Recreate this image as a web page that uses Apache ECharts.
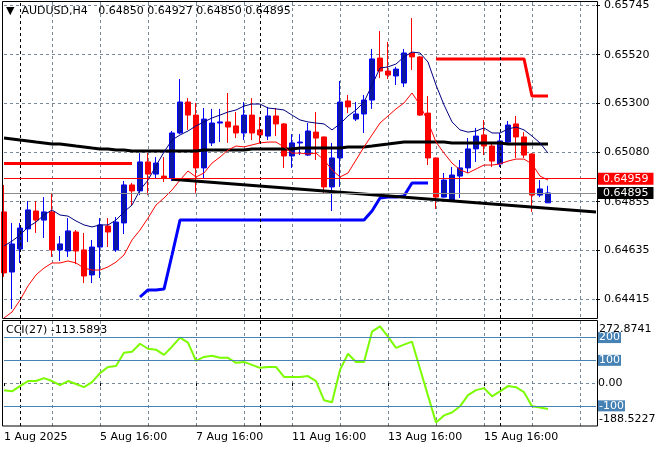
<!DOCTYPE html>
<html><head><meta charset="utf-8">
<script src="https://cdn.jsdelivr.net/npm/echarts@6/dist/echarts.min.js"></script>
<style>html,body{margin:0;padding:0;background:#fff}#c{width:660px;height:450px}</style>
</head><body><div id="c"></div>
<script>
const symbolName = 'AUDUSD,H4';
const barCount = 75; // 69 H4 bars + empty chart shift on the right
// OHLC per bar as [open, close, low, high]
const candles = [
 [0.64809,0.64533,0.64515,0.64931],[0.64537,0.64664,0.64370,0.64759],[0.64641,0.64736,0.64578,0.64759],
 [0.64732,0.64818,0.64673,0.64858],[0.64813,0.64772,0.64714,0.64858],[0.64772,0.64809,0.64691,0.64876],
 [0.64809,0.64637,0.64605,0.64895],[0.64637,0.64664,0.64587,0.64700],[0.64632,0.64723,0.64605,0.64781],
 [0.64718,0.64632,0.64573,0.64727],[0.64637,0.64519,0.64487,0.64714],[0.64524,0.64650,0.64487,0.64682],
 [0.64650,0.64750,0.64510,0.64781],[0.64745,0.64718,0.64650,0.64781],[0.64637,0.64763,0.64628,0.64786],
 [0.64759,0.64931,0.64709,0.64949],[0.64931,0.64904,0.64836,0.64940],[0.64904,0.65035,0.64885,0.65075],
 [0.65035,0.64980,0.64885,0.65075],[0.64980,0.65030,0.64962,0.65057],[0.64971,0.64962,0.64944,0.65057],
 [0.64962,0.65166,0.64949,0.65175],[0.65166,0.65306,0.65161,0.65410],[0.65306,0.65247,0.65180,0.65324],
 [0.65247,0.65008,0.64895,0.65302],[0.65008,0.65229,0.64958,0.65279],[0.65121,0.65211,0.65107,0.65275],
 [0.65211,0.65216,0.65125,0.65275],[0.65216,0.65193,0.65121,0.65347],[0.65198,0.65166,0.65143,0.65261],
 [0.65166,0.65247,0.65134,0.65306],[0.65247,0.65166,0.65134,0.65324],[0.65180,0.65157,0.65121,0.65238],
 [0.65152,0.65243,0.65134,0.65284],[0.65243,0.65207,0.65152,0.65279],[0.65207,0.65062,0.65008,0.65211],
 [0.65062,0.65121,0.65008,0.65161],[0.65121,0.65125,0.65066,0.65161],[0.65066,0.65175,0.65062,0.65211],
 [0.65170,0.65143,0.65044,0.65261],[0.65148,0.64922,0.64895,0.65150],[0.64922,0.65053,0.64813,0.65121],
 [0.65053,0.65306,0.64922,0.65401],[0.65311,0.65284,0.65256,0.65338],[0.65229,0.65252,0.65220,0.65306],
 [0.65252,0.65315,0.65166,0.65338],[0.65315,0.65501,0.65275,0.65546],[0.65505,0.65446,0.65415,0.65627],
 [0.65446,0.65428,0.65410,0.65578],[0.65424,0.65455,0.65383,0.65465],[0.65392,0.65528,0.65374,0.65546],
 [0.65528,0.65510,0.65451,0.65686],[0.65510,0.65247,0.65243,0.65514],[0.65256,0.65053,0.65021,0.65333],
 [0.65053,0.64876,0.64822,0.65055],[0.64876,0.64953,0.64874,0.64985],[0.64863,0.64976,0.64858,0.65012],
 [0.64971,0.65008,0.64872,0.65044],[0.65008,0.65094,0.64985,0.65143],[0.65094,0.65152,0.65035,0.65189],
 [0.65157,0.65107,0.65066,0.65225],[0.65107,0.65039,0.65012,0.65125],[0.65026,0.65130,0.65012,0.65166],
 [0.65125,0.65202,0.65121,0.65220],[0.65207,0.65148,0.65053,0.65243],[0.65148,0.65066,0.65053,0.65170],
 [0.65071,0.64885,0.64809,0.65073],[0.64885,0.64913,0.64876,0.64953],[0.64850,0.64895,0.64850,0.64927]
];
const maFast = [
 0.64655,0.64677,0.64704,0.64741,0.64763,0.64795,0.64818,0.64795,0.64790,0.64768,
 0.64750,0.64741,0.64750,0.64750,0.64772,0.64809,0.64840,0.64908,0.64953,0.65017,
 0.65080,0.65134,0.65157,0.65175,0.65198,0.65216,0.65234,0.65247,0.65261,0.65270,
 0.65288,0.65297,0.65297,0.65279,0.65275,0.65270,0.65247,0.65225,0.65216,0.65211,
 0.65207,0.65180,0.65207,0.65243,0.65270,0.65306,0.65383,0.65460,0.65465,0.65478,
 0.65510,0.65532,0.65528,0.65487,0.65383,0.65293,0.65216,0.65180,0.65170,0.65175,
 0.65189,0.65166,0.65166,0.65184,0.65193,0.65180,0.65152,0.65121,0.65075
];
const maSlow = [
 0.64329,0.64356,0.64410,0.64474,0.64524,0.64555,0.64578,0.64578,0.64587,0.64578,
 0.64555,0.64546,0.64546,0.64560,0.64582,0.64614,0.64682,0.64727,0.64781,0.64840,
 0.64872,0.64908,0.64953,0.64994,0.64967,0.64985,0.65030,0.65057,0.65089,0.65107,
 0.65103,0.65112,0.65121,0.65125,0.65125,0.65103,0.65075,0.65075,0.65071,0.65075,
 0.65044,0.64999,0.64967,0.64985,0.65044,0.65103,0.65157,0.65211,0.65243,0.65275,
 0.65302,0.65347,0.65293,0.65216,0.65125,0.65075,0.65030,0.64999,0.64985,0.65003,
 0.65021,0.65021,0.65026,0.65039,0.65048,0.65048,0.65026,0.64971,0.64953
];
const maLong = [
 0.65143,0.65139,0.65134,0.65130,0.65125,0.65121,0.65116,0.65116,0.65112,0.65107,
 0.65103,0.65098,0.65094,0.65094,0.65089,0.65089,0.65085,0.65085,0.65085,0.65085,
 0.65085,0.65085,0.65085,0.65085,0.65085,0.65089,0.65089,0.65089,0.65089,0.65089,
 0.65089,0.65094,0.65094,0.65094,0.65094,0.65094,0.65094,0.65098,0.65098,0.65098,
 0.65098,0.65098,0.65098,0.65103,0.65103,0.65103,0.65107,0.65112,0.65116,0.65121,
 0.65125,0.65125,0.65125,0.65125,0.65125,0.65125,0.65121,0.65121,0.65121,0.65121,
 0.65121,0.65121,0.65121,0.65116,0.65116,0.65116,0.65116,0.65116,0.65116
];
const supportLine = [
 null,null,null,null,null,null,null,null,null,null,
 null,null,null,null,null,null,null,0.64424,0.64456,0.64456,
 0.64460,0.64614,0.64772,0.64772,0.64772,0.64772,0.64772,0.64772,0.64772,0.64772,
 0.64772,0.64772,0.64772,0.64772,0.64772,0.64772,0.64772,0.64772,0.64772,0.64772,
 0.64772,0.64772,0.64772,0.64772,0.64772,0.64772,0.64813,0.64872,0.64876,0.64876,
 0.64881,0.64940,0.64940,0.64940,null,null,null,null,null,null,
 null,null,null,null,null,null,null,null,null
];
const resistanceLine = [
 0.65028,0.65028,0.65028,0.65028,0.65028,0.65028,0.65028,0.65028,0.65028,0.65028,
 0.65028,0.65028,0.65028,0.65028,0.65028,0.65028,0.65028,null,null,null,
 null,null,null,null,null,null,null,null,null,null,
 null,null,null,null,null,null,null,null,null,null,
 null,null,null,null,null,null,null,null,null,null,
 null,null,null,null,0.65501,0.65501,0.65501,0.65501,0.65501,0.65501,
 0.65501,0.65501,0.65501,0.65501,0.65501,0.65501,0.65333,0.65333,0.65333
];
const trendline = [[21, 0.64957], [74, 0.64809]];
const redLevel = 0.64959;
const bidPrice = 0.64895;
const cciValues = [
 -31,-36,-13,9,9,22,9,-9,9,-4,
 -18,4,44,71,75,133,138,173,151,147,
 124,160,200,178,98,115,120,111,111,89,
 93,80,67,71,71,27,27,27,31,9,
 -75,-84,58,129,93,93,226,249,204,155,
 169,182,63,-55,-173,-142,-129,-102,-53,-31,
 -22,-58,-36,-13,-18,-40,-102,-107,-113.5893
];
const cciPeriod = 27;
const cciLevels = [200, 100, -100];
const cciRange = [-188.5227, 272.8741];
const cciTicks = [-100, 0, 100, 200];
const priceTicks = [0.64415, 0.64635, 0.64855, 0.65080, 0.65300, 0.65520, 0.65745];
const priceRange = [0.64329, 0.657586];
const xTickBars = [0, 12, 24, 36, 48, 60];
const xTickLabels = ['1 Aug 2025', '5 Aug 16:00', '7 Aug 16:00', '11 Aug 16:00', '13 Aug 16:00', '15 Aug 16:00'];
const gridEveryBars = 6;
const separatorBars = [2, 32, 62];

const FONT = 'DejaVu Sans';
const GRID_COLOR = '#778899';
const categories = Array.from({length: barCount}, (_, i) => String(i));
const last = candles[candles.length - 1];
const lastCci = cciValues[cciValues.length - 1];

const gridSplit = {
  show: true,
  interval: (i) => i > 0 && i % gridEveryBars === 0,
  lineStyle: {color: GRID_COLOR, type: [3, 3], width: 1}
};
const sepLines = separatorBars.map(b => ({xAxis: String(b)}));

const chart = echarts.init(document.getElementById('c'), null, {renderer: 'canvas', width: 660, height: 450});
chart.setOption({
  animation: false,
  backgroundColor: '#ffffff',
  textStyle: {fontFamily: FONT},
  title: [{
    left: 6, top: 6, padding: 0,
    text: '{tri|▼}  ' + symbolName + '   ' + [last[0], last[3], last[2], last[1]].map(v => v.toFixed(5)).join(' '),
    textStyle: {fontFamily: FONT, fontSize: 11, fontWeight: 'normal', color: '#000',
      rich: {tri: {fontSize: 11, color: '#000', fontFamily: FONT}}}
  }, {
    left: 6, top: 325, padding: 0,
    text: 'CCI(' + cciPeriod + ') ' + lastCci.toFixed(4),
    textStyle: {fontFamily: FONT, fontSize: 11, fontWeight: 'normal', color: '#000'}
  }],
  grid: [
    {left: 4, width: 592, top: 2, height: 316, show: false, outerBoundsMode: 'none', containLabel: false},
    {left: 4, width: 592, top: 321, height: 105, show: false, outerBoundsMode: 'none', containLabel: false}
  ],
  xAxis: [
    {type: 'category', gridIndex: 0, data: categories, boundaryGap: false,
     axisLine: {show: false}, axisTick: {show: false}, axisLabel: {show: false}, splitLine: gridSplit},
    {type: 'category', gridIndex: 1, data: categories, boundaryGap: false,
     axisLine: {show: false},
     axisTick: {show: true, length: 3, interval: (i) => xTickBars.includes(i), lineStyle: {color: '#000'}},
     axisLabel: {show: true, interval: (i) => xTickBars.includes(i),
       formatter: (v, i) => { const k = xTickBars.indexOf(i); return k >= 0 ? xTickLabels[k] : ''; },
       align: 'left', margin: 6, color: '#000', fontFamily: FONT, fontSize: 11},
     splitLine: gridSplit}
  ],
  yAxis: [
    {type: 'value', gridIndex: 0, position: 'right', min: priceRange[0], max: priceRange[1],
     axisLine: {show: false},
     axisTick: {show: true, length: 4, customValues: priceTicks, lineStyle: {color: '#000'}},
     axisLabel: {customValues: priceTicks, formatter: v => v.toFixed(5), margin: 8, align: 'left',
       color: '#000', fontFamily: FONT, fontSize: 11},
     splitLine: {show: true, lineStyle: {color: GRID_COLOR, type: [3, 3], width: 1}}},
    {type: 'value', gridIndex: 1, position: 'right', min: cciRange[0], max: cciRange[1],
     axisLine: {show: false},
     axisTick: {show: false, customValues: cciTicks},
     axisLabel: {customValues: cciTicks,
       formatter: v => cciLevels.includes(v) ? '{box|' + v + '}' : v.toFixed(2),
       margin: 2, align: 'left', color: '#000', fontFamily: FONT, fontSize: 11,
       rich: {box: {backgroundColor: '#4682B4', color: '#fff', fontFamily: FONT, fontSize: 11, lineHeight: 11, padding: [0, 1, 0, 1]}}},
     splitLine: {show: true, lineStyle: {color: GRID_COLOR, type: [3, 3], width: 1}}},
    {type: 'value', gridIndex: 1, position: 'right', min: cciRange[0], max: cciRange[1],
     axisLine: {show: false}, splitLine: {show: false},
     axisTick: {show: false, customValues: [cciRange[1]]},
     axisLabel: {customValues: [cciRange[1]], formatter: v => v.toFixed(4), verticalAlign: 'top',
       padding: [3, 0, 0, 0], margin: 3, align: 'left', color: '#000', fontFamily: FONT, fontSize: 11}},
    {type: 'value', gridIndex: 1, position: 'right', min: cciRange[0], max: cciRange[1],
     axisLine: {show: false}, splitLine: {show: false},
     axisTick: {show: false, customValues: [cciRange[0]]},
     axisLabel: {customValues: [cciRange[0]], formatter: v => v.toFixed(4), verticalAlign: 'bottom',
       padding: [0, 0, 1, 0], margin: 3, align: 'left', color: '#000', fontFamily: FONT, fontSize: 11}}
  ],
  series: [
    {type: 'candlestick', name: 'AUDUSD', xAxisIndex: 0, yAxisIndex: 0, data: candles, barWidth: 5, z: 2,
     itemStyle: {color: '#0c18a0', color0: '#ff0000', borderColor: '#0000ff', borderColor0: '#ff0000', borderWidth: 1},
     markLine: {silent: true, symbol: 'none', animation: false, precision: 5,
       label: {show: false},
       lineStyle: {color: '#000', type: [3, 3], width: 1},
       data: sepLines.concat([
         {yAxis: bidPrice, lineStyle: {color: '#8c8c8c', type: 'solid', width: 1},
          label: {show: true, position: 'end', distance: 2, formatter: () => bidPrice.toFixed(5),
            backgroundColor: '#000', color: '#fff', fontFamily: FONT, fontSize: 11, lineHeight: 12, padding: [0, 5, 0, 5]}},
         {yAxis: redLevel, lineStyle: {color: '#ff0000', type: 'solid', width: 1},
          label: {show: true, position: 'end', distance: 2, formatter: () => redLevel.toFixed(5),
            backgroundColor: '#ff0000', color: '#fff', fontFamily: FONT, fontSize: 11, lineHeight: 12, padding: [0, 5, 0, 5]}}
       ])}},
    {type: 'line', name: 'MA long', xAxisIndex: 0, yAxisIndex: 0, data: maLong, symbol: 'none', z: 3,
     lineStyle: {color: '#000', width: 3}},
    {type: 'line', name: 'MA fast', xAxisIndex: 0, yAxisIndex: 0, data: maFast, symbol: 'none', z: 3,
     lineStyle: {color: '#000080', width: 1}},
    {type: 'line', name: 'MA slow', xAxisIndex: 0, yAxisIndex: 0, data: maSlow, symbol: 'none', z: 3,
     lineStyle: {color: '#ff0000', width: 1}},
    {type: 'line', name: 'Support', xAxisIndex: 0, yAxisIndex: 0, data: supportLine, symbol: 'none', z: 3,
     lineStyle: {color: '#0000ff', width: 3}},
    {type: 'line', name: 'Resistance', xAxisIndex: 0, yAxisIndex: 0, data: resistanceLine, symbol: 'none', z: 3,
     lineStyle: {color: '#ff0000', width: 3}},
    {type: 'line', name: 'Trendline', xAxisIndex: 0, yAxisIndex: 0, data: trendline, symbol: 'none', z: 3,
     lineStyle: {color: '#000', width: 3}},
    {type: 'line', name: 'CCI', xAxisIndex: 1, yAxisIndex: 1, data: cciValues, symbol: 'none', z: 3,
     lineStyle: {color: '#7cfc00', width: 2},
     markLine: {silent: true, symbol: 'none', animation: false,
       label: {show: false},
       lineStyle: {color: '#000', type: [3, 3], width: 1},
       data: sepLines.concat(cciLevels.map(v => ({yAxis: v, lineStyle: {color: '#4682B4', type: 'solid', width: 1}})))}}
  ],
  graphic: [
    {type: 'rect', z: 100, silent: true, shape: {x: 2.5, y: 1.5, width: 595, height: 317},
     style: {fill: 'none', stroke: '#000', lineWidth: 1}},
    {type: 'rect', z: 100, silent: true, shape: {x: 2.5, y: 320.5, width: 595, height: 105.5},
     style: {fill: 'none', stroke: '#000', lineWidth: 1}}
  ]
});
</script>
</body></html>
